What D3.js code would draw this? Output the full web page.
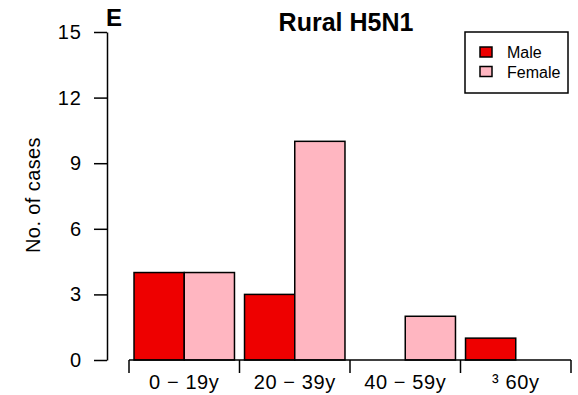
<!DOCTYPE html>
<html>
<head>
<meta charset="utf-8">
<script src="https://cdn.jsdelivr.net/npm/d3@7/dist/d3.min.js"></script>
<style>
  html, body { margin: 0; padding: 0; background: #fff; }
  svg { display: block; font-family: "Liberation Sans", Arial, Helvetica, sans-serif; }
</style>
</head>
<body>
<svg id="chart" width="578" height="395"></svg>
<script>
// Age groups and case counts by sex
const ageGroups = ["0 \u2212 19y", "20 \u2212 39y", "40 \u2212 59y", "\u00B3 60y"];
const seriesNames = ["Male", "Female"];
const maleCases = [4, 3, 0, 1];
const femaleCases = [4, 10, 2, 0];
const yTicks = [0, 3, 6, 9, 12, 15];
const seriesColors = ["#EE0000", "#FFB6C1"];

const svg = d3.select("#chart");

const y = d3.scaleLinear().domain([0, 15]).range([360, 32]);
const x = d3.scaleBand().domain(ageGroups).range([129, 571]).paddingInner(0).paddingOuter(0);
const xs = d3.scaleBand().domain(seriesNames).range([0, x.bandwidth()]).paddingInner(0).paddingOuter(0.1);
const color = d3.scaleOrdinal().domain(seriesNames).range(seriesColors);

const rows = ageGroups.map((g, i) => ({ group: g, values: [
  { key: "Male", value: maleCases[i] },
  { key: "Female", value: femaleCases[i] }
]}));

// Bars
const groups = svg.append("g").selectAll("g").data(rows).join("g")
  .attr("transform", d => `translate(${x(d.group)},0)`);
groups.selectAll("rect").data(d => d.values).join("rect")
  .attr("x", d => xs(d.key))
  .attr("y", d => y(d.value))
  .attr("width", xs.bandwidth())
  .attr("height", d => y(0) - y(d.value))
  .attr("fill", d => color(d.key))
  .attr("stroke", "#000")
  .attr("stroke-width", 1.5);

// Y axis
const yAxis = svg.append("g")
  .attr("transform", "translate(107,0)")
  .call(d3.axisLeft(y).tickValues(yTicks).tickSize(13).tickPadding(12).tickSizeOuter(0));
yAxis.select(".domain").attr("stroke", "#000").attr("stroke-width", 1.5);
yAxis.selectAll(".tick line").attr("stroke", "#000").attr("stroke-width", 1.5);
yAxis.selectAll(".tick text").attr("font-size", 20).attr("fill", "#000")
  .attr("letter-spacing", 1)
  .attr("font-family", "'Liberation Sans', Arial, sans-serif");

// X axis: baseline with ticks at group boundaries, labels centred in each group
const xAxis = svg.append("g");
xAxis.append("line")
  .attr("x1", x.range()[0]).attr("x2", x.range()[1])
  .attr("y1", y(0)).attr("y2", y(0))
  .attr("stroke", "#000").attr("stroke-width", 1.5);
const bounds = ageGroups.map(g => x(g)).concat([x.range()[1]]);
xAxis.selectAll("line.tick").data(bounds).join("line")
  .attr("class", "tick")
  .attr("x1", d => d).attr("x2", d => d)
  .attr("y1", y(0)).attr("y2", y(0) + 13)
  .attr("stroke", "#000").attr("stroke-width", 1.5);
xAxis.selectAll("text").data(ageGroups).join("text")
  .attr("x", d => x(d) + x.bandwidth() / 2)
  .attr("y", 389)
  .attr("text-anchor", "middle")
  .attr("font-size", 20)
  .attr("letter-spacing", 0.6)
  .text(d => d);

// Axis title
svg.append("text")
  .attr("transform", "translate(40,195) rotate(-90)")
  .attr("text-anchor", "middle")
  .attr("font-size", 20)
  .attr("letter-spacing", 0.4)
  .text("No. of cases");

// Chart title and panel letter
svg.append("text")
  .attr("x", 346).attr("y", 31)
  .attr("text-anchor", "middle")
  .attr("font-size", 25).attr("font-weight", "bold")
  .text("Rural H5N1");
svg.append("text")
  .attr("x", 106).attr("y", 26)
  .attr("font-size", 24).attr("font-weight", "bold")
  .text("E");

// Legend
const legend = svg.append("g");
legend.append("rect")
  .attr("x", 465).attr("y", 32).attr("width", 103).attr("height", 61)
  .attr("fill", "#fff").attr("stroke", "#000").attr("stroke-width", 1.5);
const items = legend.selectAll("g.item").data(seriesNames).join("g")
  .attr("class", "item")
  .attr("transform", (d, i) => `translate(0,${i * 19.5})`);
items.append("rect")
  .attr("x", 480).attr("y", 47).attr("width", 12).attr("height", 10)
  .attr("fill", d => color(d)).attr("stroke", "#000").attr("stroke-width", 1.5);
items.append("text")
  .attr("x", 507).attr("y", 58)
  .attr("font-size", 16)
  .text(d => d);
</script>
</body>
</html>
